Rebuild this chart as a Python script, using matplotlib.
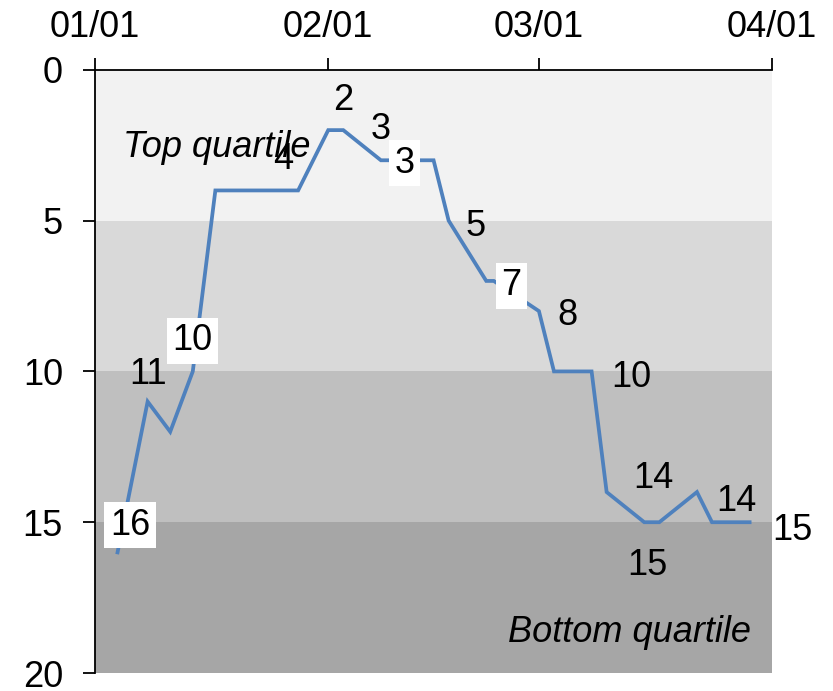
import datetime as dt
import matplotlib.pyplot as plt
import matplotlib.dates as mdates

plt.rcParams['font.family'] = ['Liberation Sans', 'DejaVu Sans']
plt.rcParams['font.size'] = 26

# ranking over the quarter (lower is better)
dates = ['2015-01-04', '2015-01-08', '2015-01-11', '2015-01-14', '2015-01-17',
         '2015-01-28', '2015-02-01', '2015-02-03', '2015-02-08', '2015-02-15',
         '2015-02-17', '2015-02-22', '2015-02-23', '2015-03-01', '2015-03-03',
         '2015-03-08', '2015-03-10', '2015-03-15', '2015-03-17', '2015-03-22',
         '2015-03-24', '2015-03-29']
ranks = [16, 11, 12, 10, 4, 4, 2, 2, 3, 3, 5, 7, 7, 8, 10, 10, 14, 15, 15, 14, 15, 15]

# data labels: point index, x/y offset in points, alignment, white box
label_idx = [0, 1, 3, 5, 7, 8, 8, 10, 11, 13, 15, 16, 17, 19, 21]
label_dx = [9, 0, 0, -11, 0, 0, 10, 12, 11, 13, 14, 34, 2, 14, 16]
label_dy = [19.5, 19.5, 22, 22, 21.5, 22, -2, -4, -3.5, -3, -4.5, 10, -31.5, -6.5, -6]
label_ha = ['center', 'center', 'center', 'center', 'center', 'center', 'left',
            'left', 'left', 'left', 'left', 'center', 'center', 'left', 'left']
label_box = [True, False, True, False, False, False, True,
             False, True, False, False, False, False, False, False]

band_edges = [0, 5, 10, 15, 20]
band_colors = ['#f2f2f2', '#d9d9d9', '#bfbfbf', '#a6a6a6']

month_ticks = ['2015-01-01', '2015-02-01', '2015-03-01', '2015-04-01']

x = [dt.datetime.strptime(d, '%Y-%m-%d') for d in dates]
xt = [dt.datetime.strptime(d, '%Y-%m-%d') for d in month_ticks]

fig = plt.figure(figsize=(8.33, 6.91), dpi=100)
ax = fig.add_axes([0.114, 0.026, 0.813, 0.873])

for i in range(len(band_colors)):
    ax.axhspan(band_edges[i], band_edges[i + 1], color=band_colors[i], lw=0, zorder=0)

ax.plot(x, ranks, color='#4f81bd', lw=2.7, zorder=2, solid_joinstyle='miter')

for i, idx in enumerate(label_idx):
    bbox = None
    if label_box[i]:
        bbox = dict(boxstyle='square,pad=0.15', fc='white', ec='none')
    ax.annotate(str(ranks[idx]), xy=(x[idx], ranks[idx]),
                xytext=(label_dx[i], label_dy[i]), textcoords='offset points',
                ha=label_ha[i], va='center', bbox=bbox, zorder=3,
                annotation_clip=False)

ax.text(0.041, 0.871, 'Top quartile', style='italic', transform=ax.transAxes,
        ha='left', va='center', zorder=1)
ax.text(0.969, 0.068, 'Bottom quartile', style='italic', transform=ax.transAxes,
        ha='right', va='center', zorder=1)

ax.set_xlim(xt[0], xt[-1])
ax.set_ylim(20, 0)
ax.set_yticks([0, 5, 10, 15, 20])
ax.set_xticks(xt)
ax.xaxis.set_major_formatter(mdates.DateFormatter('%m/%d'))
ax.xaxis.tick_top()

for side in ['right', 'bottom']:
    ax.spines[side].set_visible(False)
for side in ['left', 'top']:
    ax.spines[side].set_linewidth(1.3)
ax.tick_params(axis='both', direction='out', length=8.6, width=1.3)
ax.tick_params(axis='x', pad=9.5)
ax.tick_params(axis='y', pad=14.5)

fig.savefig('out.png', dpi=100)
